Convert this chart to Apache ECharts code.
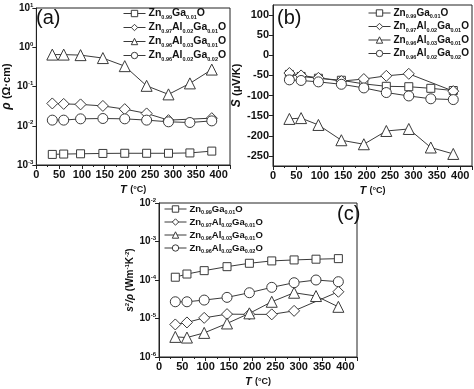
<!DOCTYPE html>
<html>
<head>
<meta charset="utf-8">
<script src="https://cdn.jsdelivr.net/npm/echarts@6/dist/echarts.min.js"></script>
<style>html,body{margin:0;padding:0;background:#fff;}#c{width:474px;height:389px;}</style>
</head>
<body>
<div id="c"></div>
<script>
// ---- data ----
var temps = [35, 60, 97, 146, 194, 242, 290, 337, 385];
var seriesNames = ['Zn0.99Ga0.01O', 'Zn0.97Al0.02Ga0.01O', 'Zn0.96Al0.03Ga0.01O', 'Zn0.96Al0.02Ga0.02O'];
var legendRich = [
  '{m|Zn}{s|0.99}{m|Ga}{s|0.01}{m|O}',
  '{m|Zn}{s|0.97}{m|Al}{s|0.02}{m|Ga}{s|0.01}{m|O}',
  '{m|Zn}{s|0.96}{m|Al}{s|0.03}{m|Ga}{s|0.01}{m|O}',
  '{m|Zn}{s|0.96}{m|Al}{s|0.02}{m|Ga}{s|0.02}{m|O}'
];
// (a) resistivity, Ohm cm
var rhoGa      = [0.00186, 0.00190, 0.00193, 0.00197, 0.00199, 0.00199, 0.00199, 0.00203, 0.00226];
var rhoAl2Ga1  = [0.037, 0.036, 0.035, 0.032, 0.0265, 0.0206, 0.0139, null, 0.0156];
var rhoAl3Ga1  = [0.65, 0.65, 0.63, 0.53, 0.33, 0.104, 0.063, 0.12, 0.27];
var rhoAl2Ga2  = [0.0139, 0.0139, 0.015, 0.0153, 0.015, 0.0139, 0.0126, 0.0121, 0.0133];
// (b) Seebeck, uV/K
var sGa        = [-47.5, -52.5, -57, -62, -71, -77, -78, -82, -87.5];
var sAl2Ga1    = [-44, -50, -56, -64, -59, -51, -46, null, -89];
var sAl3Ga1    = [-158, -156, -173, -211, -221, -188, -183, -229, -245];
var sAl2Ga2    = [-61, -62.5, -66, -72, -81, -92.5, -101, -108, -110];
// (c) power factor, W m^-1 K^-2
var pfGa       = [1.18e-4, 1.43e-4, 1.75e-4, 2.22e-4, 2.72e-4, 3.13e-4, 3.32e-4, 3.47e-4, 3.59e-4];
var pfAl2Ga1   = [7.0e-6, 7.9e-6, 1.04e-5, 1.3e-5, 1.28e-5, 1.28e-5, 1.58e-5, null, 4.95e-5];
var pfAl3Ga1   = [3.33e-6, 3.2e-6, 4.23e-6, 7.43e-6, 1.36e-5, 2.72e-5, 4.67e-5, 3.83e-5, 2.01e-5];
var pfAl2Ga2   = [2.72e-5, 2.72e-5, 3.01e-5, 3.54e-5, 4.67e-5, 6.45e-5, 8.5e-5, 1.0e-4, 9.04e-5];
var xTicks = [0, 50, 100, 150, 200, 250, 300, 350, 400];
var sTicks = [-250, -200, -150, -100, -50, 0, 50, 100];

// ---- chart ----
var FONT = 'Liberation Sans, Arial, sans-serif';
var INK = '#3a3a3a';
var symbols = ['rect', 'diamond', 'triangle', 'circle'];
var sizes = [8, 11, 11, 10];

function pairs(vals) {
  return temps.map(function (t, i) { return [t, vals[i]]; });
}
function mkSeries(idx, vals, k) {
  return {
    name: seriesNames[k], type: 'line', xAxisIndex: idx, yAxisIndex: idx,
    data: pairs(vals), connectNulls: true,
    symbol: symbols[k], symbolSize: sizes[k], showSymbol: true,
    lineStyle: { color: INK, width: 1 },
    itemStyle: { color: '#fff', borderColor: INK, borderWidth: 1 },
    emphasis: { disabled: true }, animation: false, z: 3
  };
}
var supRich = {
  b: { fontSize: 10, fontWeight: 'bold', fontFamily: FONT, color: '#111', lineHeight: 12 },
  sup: { fontSize: 6, fontWeight: 'bold', fontFamily: FONT, color: '#111', verticalAlign: 'top', lineHeight: 6 }
};
function logLabel(v) {
  var e = Math.round(Math.log(v) / Math.LN10);
  return '{b|10}{sup|' + e + '}';
}
function xAxisCfg(idx) {
  return {
    type: 'value', gridIndex: idx, min: 0, max: 425, interval: 50,
    axisLine: { show: true, onZero: false, lineStyle: { color: '#222', width: 1 } },
    axisTick: { show: true, inside: false, length: 4, lineStyle: { color: '#222' } },
    minorTick: { show: true, splitNumber: 2, length: 2, lineStyle: { color: '#222' } },
    splitLine: { show: false },
    axisLabel: {
      margin: 4, fontSize: 11, fontWeight: 'bold', fontFamily: FONT, color: '#111',
      customValues: xTicks
    },
    name: '{i|T} {n|(°C)}', nameLocation: 'middle', nameGap: 19,
    nameTextStyle: {
      rich: {
        i: { fontSize: 11, fontWeight: 'bold', fontStyle: 'italic', fontFamily: FONT, color: '#111' },
        n: { fontSize: 9, fontWeight: 'bold', fontFamily: FONT, color: '#111' }
      }
    }
  };
}
var nameRich = {
  i: { fontSize: 12, fontWeight: 'bold', fontStyle: 'italic', fontFamily: FONT, color: '#111', lineHeight: 14 },
  n: { fontSize: 11, fontWeight: 'bold', fontFamily: FONT, color: '#111', lineHeight: 14 },
  sup: { fontSize: 6, fontWeight: 'bold', fontFamily: FONT, color: '#111', verticalAlign: 'top', lineHeight: 6 }
};
var nameRichSmall = {
  i: { fontSize: 10, fontWeight: 'bold', fontStyle: 'italic', fontFamily: FONT, color: '#111', lineHeight: 12 },
  n: { fontSize: 10, fontWeight: 'bold', fontFamily: FONT, color: '#111', lineHeight: 12 },
  sup: { fontSize: 6, fontWeight: 'bold', fontFamily: FONT, color: '#111', verticalAlign: 'top', lineHeight: 6 }
};
function logYAxis(idx, mn, mx, name, gap, rich) {
  return {
    type: 'log', logBase: 10, gridIndex: idx, min: mn, max: mx,
    axisLine: { show: true, lineStyle: { color: '#222', width: 1 } },
    axisTick: { show: true, inside: false, length: 4, lineStyle: { color: '#222' } },
    splitLine: { show: false },
    axisLabel: { margin: 3, formatter: logLabel, rich: supRich },
    name: name, nameLocation: 'middle', nameGap: gap, nameRotate: 90,
    nameTextStyle: { rich: rich }
  };
}
function mkLegend(left, top, fs, lh) {
  return {
    show: true, orient: 'vertical', left: left, top: top,
    itemWidth: 22, itemHeight: 8, itemGap: 2, padding: 0,
    data: seriesNames,
    itemStyle: { color: '#fff', borderColor: INK, borderWidth: 1 },
    lineStyle: { color: INK, width: 1 },
    formatter: function (name) { return legendRich[seriesNames.indexOf(name)]; },
    textStyle: {
      padding: [0, 0, 0, -2],
      rich: {
        m: { fontSize: fs, fontWeight: 'bold', fontFamily: FONT, color: '#111', lineHeight: lh },
        s: { fontSize: 5.5, fontWeight: 'bold', fontFamily: FONT, color: '#111', verticalAlign: 'bottom', lineHeight: 6 }
      }
    },
    selectedMode: false
  };
}

var option = {
  animation: false,
  backgroundColor: '#fff',
  grid: [
    { left: 33, top: 8, width: 197, height: 157, show: true, borderColor: '#222', borderWidth: 1, containLabel: false },
    { left: 273, top: 5, width: 199, height: 161, show: true, borderColor: '#222', borderWidth: 1, containLabel: false },
    { left: 159, top: 203, width: 198, height: 154, show: true, borderColor: '#222', borderWidth: 1, containLabel: false }
  ],
  xAxis: [xAxisCfg(0), xAxisCfg(1), xAxisCfg(2)],
  yAxis: [
    logYAxis(0, 1e-3, 10, '{i|ρ} {n|(Ω·cm)}', 19, nameRich),
    {
      type: 'value', gridIndex: 1, min: -275, max: 125,
      axisLine: { show: true, onZero: false, lineStyle: { color: '#222', width: 1 } },
      axisTick: { show: true, inside: false, length: 4, lineStyle: { color: '#222' }, customValues: sTicks },
      splitLine: { show: false },
      axisLabel: { margin: 4, fontSize: 11, fontWeight: 'bold', fontFamily: FONT, color: '#111', customValues: sTicks },
      name: '{i|S} {n|(μV/K)}', nameLocation: 'middle', nameGap: 28, nameRotate: 90,
      nameTextStyle: { rich: nameRich }
    },
    logYAxis(2, 1e-6, 1e-2, '{i|s}{sup|2}{i|/ρ}{n| (Wm}{sup|-1}{n|K}{sup|-2}{n|)}', 20, nameRichSmall)
  ],
  legend: [mkLegend(123, 8, 10.5, 13), mkLegend(368, 8, 10, 13), mkLegend(164, 204, 9.5, 12)],
  graphic: [
    { type: 'text', left: 36, top: 8, style: { text: '(a)', fontSize: 20, fontFamily: FONT, fill: '#111' } },
    { type: 'text', left: 277, top: 8, style: { text: '(b)', fontSize: 20, fontFamily: FONT, fill: '#111' } },
    { type: 'text', left: 337, top: 204, style: { text: '(c)', fontSize: 20, fontFamily: FONT, fill: '#111' } }
  ],
  series: [
    mkSeries(0, rhoGa, 0), mkSeries(0, rhoAl2Ga1, 1), mkSeries(0, rhoAl3Ga1, 2), mkSeries(0, rhoAl2Ga2, 3),
    mkSeries(1, sGa, 0), mkSeries(1, sAl2Ga1, 1), mkSeries(1, sAl3Ga1, 2), mkSeries(1, sAl2Ga2, 3),
    mkSeries(2, pfGa, 0), mkSeries(2, pfAl2Ga1, 1), mkSeries(2, pfAl3Ga1, 2), mkSeries(2, pfAl2Ga2, 3)
  ]
};
var chart = echarts.init(document.getElementById('c'), null, { renderer: 'canvas' });
chart.setOption(option);
</script>
</body>
</html>
